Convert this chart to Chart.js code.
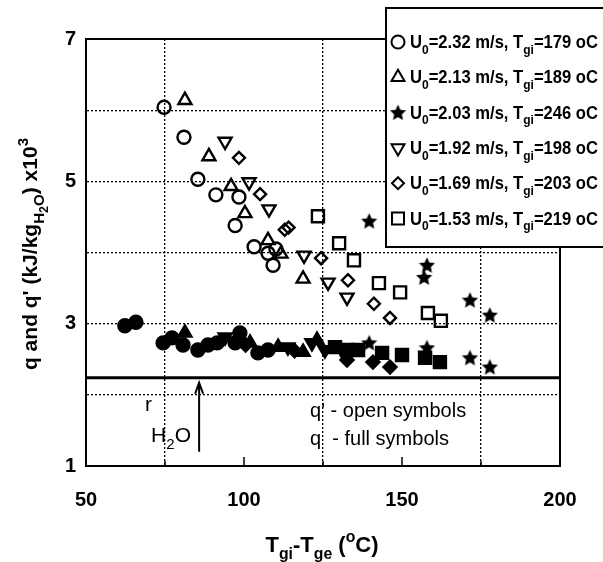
<!DOCTYPE html>
<html>
<head>
<meta charset="utf-8">
<script src="https://cdn.jsdelivr.net/npm/chart.js@4/dist/chart.umd.min.js"></script>
<style>
  html, body { margin: 0; padding: 0; background: #fff; }
</style>
</head>
<body>
<canvas id="chart" width="603" height="562"></canvas>
<script>
// q' (open symbols)
const circOpenX = [74.7, 81.0, 85.4, 91.1, 98.4, 97.2, 103.2, 107.6, 110.1, 109.2];
const circOpenY = [6.04, 5.62, 5.03, 4.81, 4.78, 4.38, 4.08, 3.99, 4.05, 3.82];
const triOpenX = [81.3, 88.9, 95.9, 100.3, 107.6, 111.7, 118.7];
const triOpenY = [6.14, 5.35, 4.93, 4.55, 4.17, 3.98, 3.63];
const invOpenX = [94.0, 101.6, 107.9, 119.0, 126.6, 132.6];
const invOpenY = [5.56, 4.99, 4.61, 3.96, 3.58, 3.37];
const diaOpenX = [98.4, 105.1, 112.9, 114.1, 124.4, 132.9, 141.1, 146.2];
const diaOpenY = [5.33, 4.82, 4.32, 4.35, 3.92, 3.61, 3.28, 3.08];
const sqOpenX = [123.4, 130.1, 134.8, 142.7, 149.4, 158.2, 162.3];
const sqOpenY = [4.51, 4.13, 3.89, 3.57, 3.44, 3.15, 3.04];
const starOpenX = [139.6, 157.9, 157.0, 171.5, 177.8];
const starOpenY = [4.44, 3.82, 3.65, 3.33, 3.12];

// q (full symbols)
const circFullX = [62.3, 65.8, 74.4, 77.2, 80.7, 85.4, 88.6, 91.5, 97.2, 98.7, 104.4, 107.6];
const circFullY = [2.97, 3.02, 2.73, 2.80, 2.70, 2.63, 2.70, 2.73, 2.73, 2.87, 2.59, 2.63];
const triFullX = [81.3, 101.9, 110.8, 118.7, 123.1];
const triFullY = [2.87, 2.73, 2.67, 2.60, 2.77];
const invFullX = [94.0, 113.9, 121.5, 125.6, 131.0];
const invFullY = [2.81, 2.67, 2.73, 2.63, 2.63];
const diaFullX = [100.5, 116.0, 132.6, 140.8, 146.2];
const diaFullY = [2.70, 2.62, 2.49, 2.46, 2.39];
const sqFullX = [128.8, 132.6, 136.1, 143.7, 150.0, 157.3, 162.0];
const sqFullY = [2.67, 2.63, 2.63, 2.59, 2.56, 2.52, 2.46];
const starFullX = [139.6, 157.9, 171.5, 177.8];
const starFullY = [2.73, 2.66, 2.52, 2.39];

// r_H2O line and arrow
const rH2O = 2.24;
const arrowX = 85.8;
const arrowY = [1.2, 2.17];

// legend
const legendU = ['2.32', '2.13', '2.03', '1.92', '1.69', '1.53'];
const legendT = ['179', '189', '246', '198', '203', '219'];

const xTicks = [50, 100, 150, 200];
const yTicks = [1, 3, 5, 7];
const xGrid = [75, 125, 175];

const FONT = "'Liberation Sans', Arial, sans-serif";
Chart.defaults.font.family = FONT;
Chart.defaults.color = '#000';

function makeStar(size) {
    const c = document.createElement('canvas');
    c.width = size;
    c.height = size;
    const g = c.getContext('2d');
    g.fillStyle = '#000';
    g.beginPath();
    for (let i = 0; i < 10; i++) {
        const r = i % 2 ? size * 0.24 : size * 0.5;
        const a = -Math.PI / 2 + i * Math.PI / 5;
        const px = size / 2 + r * Math.cos(a);
        const py = size / 2 + 0.5 + r * Math.sin(a);
        if (i === 0) g.moveTo(px, py); else g.lineTo(px, py);
    }
    g.closePath();
    g.fill();
    return c;
}
const starImg = makeStar(17);

const toPts = (xs, ys) => xs.map((x, i) => ({ x: x, y: ys[i] }));

function series(label, xs, ys, style, radius, filled, rotation) {
    return {
        type: 'scatter',
        label: label,
        data: toPts(xs, ys),
        pointStyle: style,
        pointRadius: radius,
        pointRotation: rotation || 0,
        pointBorderWidth: 2.4,
        pointBorderColor: '#000',
        pointBackgroundColor: filled ? '#000' : 'rgba(0,0,0,0)'
    };
}

const datasets = [
    {
        type: 'line',
        label: 'rH2O',
        data: [{ x: 50, y: rH2O }, { x: 200, y: rH2O }],
        borderColor: '#000',
        borderWidth: 3,
        pointRadius: 0
    },
    series('circ open', circOpenX, circOpenY, 'circle', 6.5, false),
    series('tri open', triOpenX, triOpenY, 'triangle', 7.5, false),
    series('inv open', invOpenX, invOpenY, 'triangle', 7.5, false, 180),
    series('dia open', diaOpenX, diaOpenY, 'rectRot', 6, false),
    series('sq open', sqOpenX, sqOpenY, 'rect', 8.5, false),
    series('star open', starOpenX, starOpenY, starImg, 8, true),
    series('circ full', circFullX, circFullY, 'circle', 6.5, true),
    series('tri full', triFullX, triFullY, 'triangle', 7.5, true),
    series('inv full', invFullX, invFullY, 'triangle', 7.5, true, 180),
    series('dia full', diaFullX, diaFullY, 'rectRot', 6.5, true),
    series('sq full', sqFullX, sqFullY, 'rect', 8.5, true),
    series('star full', starFullX, starFullY, starImg, 8, true)
];

function fontFor(level, size, weight) {
    let s = size;
    if (level === -1 || level === 1) s = size * 0.72;
    if (level === -2) s = size * 0.6;
    return weight + ' ' + s.toFixed(1) + 'px ' + FONT;
}
function offFor(level, size) {
    if (level === -1) return size * 0.32;
    if (level === -2) return size * 0.5;
    if (level === 1) return -size * 0.45;
    return 0;
}
function richWidth(ctx, parts, size, weight) {
    let w = 0;
    parts.forEach(p => {
        ctx.font = fontFor(p[1], size, weight);
        w += ctx.measureText(p[0]).width;
    });
    return w;
}
// draws text with sub/superscripts, left aligned at x, baseline y, squeezed to maxW
function drawRich(ctx, parts, x, y, size, weight, maxW) {
    const w = richWidth(ctx, parts, size, weight);
    const sx = maxW ? maxW / w : 1;
    ctx.save();
    ctx.translate(x, y);
    ctx.scale(sx, 1);
    ctx.textBaseline = 'alphabetic';
    ctx.textAlign = 'left';
    ctx.fillStyle = '#000';
    let cx = 0;
    parts.forEach(p => {
        ctx.font = fontFor(p[1], size, weight);
        ctx.fillText(p[0], cx, offFor(p[1], size));
        cx += ctx.measureText(p[0]).width;
    });
    ctx.restore();
    return w * sx;
}

const legendStyles = [
    { pointStyle: 'circle', radius: 6.5, rotation: 0, fill: false },
    { pointStyle: 'triangle', radius: 7.5, rotation: 0, fill: false },
    { pointStyle: starImg, radius: 8, rotation: 0, fill: true },
    { pointStyle: 'triangle', radius: 7.5, rotation: 180, fill: false },
    { pointStyle: 'rectRot', radius: 6, rotation: 0, fill: false },
    { pointStyle: 'rect', radius: 8.5, rotation: 0, fill: false }
];

const overlay = {
    id: 'overlay',
    afterDraw(chart) {
        const ctx = chart.ctx;
        const area = chart.chartArea;
        const xs = chart.scales.x;
        const ys = chart.scales.y;

        ctx.save();
        // frame
        ctx.strokeStyle = '#000';
        ctx.lineWidth = 2;
        ctx.strokeRect(area.left, area.top, area.right - area.left, area.bottom - area.top);

        // inward ticks on bottom axis
        ctx.lineWidth = 1.5;
        for (let v = 75; v <= 175; v += 25) {
            const px = xs.getPixelForValue(v);
            const len = v % 50 === 0 ? 9 : 5;
            ctx.beginPath();
            ctx.moveTo(px, area.bottom);
            ctx.lineTo(px, area.bottom - len);
            ctx.stroke();
        }

        // arrow for r_H2O
        const ax = xs.getPixelForValue(arrowX);
        const ay0 = ys.getPixelForValue(arrowY[0]);
        const ay1 = ys.getPixelForValue(arrowY[1]);
        ctx.lineWidth = 2;
        ctx.beginPath();
        ctx.moveTo(ax, ay0);
        ctx.lineTo(ax, ay1);
        ctx.moveTo(ax - 4, ay1 + 11);
        ctx.lineTo(ax, ay1);
        ctx.lineTo(ax + 4, ay1 + 11);
        ctx.stroke();

        // r_H2O label
        const lx = xs.getPixelForValue(68.7);
        drawRich(ctx, [['r', 0]], lx, ys.getPixelForValue(1.77), 21, 'normal');
        drawRich(ctx, [['H', 0], ['2', -1], ['O', 0]], lx + 6, ys.getPixelForValue(1.34), 21, 'normal');

        // q' / q explanation
        const qx = xs.getPixelForValue(120.9);
        drawRich(ctx, [["q' - open symbols", 0]], qx, ys.getPixelForValue(1.69), 20, 'normal');
        drawRich(ctx, [["q  - full symbols", 0]], qx, ys.getPixelForValue(1.29), 20, 'normal');

        // x title
        const xParts = [['T', 0], ['gi', -1], ['-T', 0], ['ge', -1], [' (', 0], ['o', 1], ['C)', 0]];
        const xw = richWidth(ctx, xParts, 22, 'bold');
        drawRich(ctx, xParts, 322 - xw / 2, 552, 22, 'bold');

        // y title
        const yParts = [["q and q' (kJ/kg", 0], ['H', -1], ['2', -2], ['O', -1], [') x10', 0], ['3', 1]];
        ctx.save();
        ctx.translate(37, 254);
        ctx.rotate(-Math.PI / 2);
        const yw = Math.min(richWidth(ctx, yParts, 21, 'bold'), 283);
        drawRich(ctx, yParts, -yw / 2, 0, 21, 'bold', yw);
        ctx.restore();

        // legend box
        const bx = 386, by = 8, bh = 239;
        ctx.fillStyle = '#fff';
        ctx.fillRect(bx, by, 230, bh);
        ctx.lineWidth = 2;
        ctx.strokeStyle = '#000';
        ctx.strokeRect(bx, by, 230, bh);
        legendU.forEach((u, i) => {
            const cy = 42 + i * 35.3;
            const st = legendStyles[i];
            ctx.fillStyle = st.fill ? '#000' : '#fff';
            ctx.strokeStyle = '#000';
            ctx.lineWidth = 2;
            Chart.helpers.drawPoint(ctx, {
                pointStyle: st.pointStyle,
                radius: st.radius,
                rotation: st.rotation,
                borderWidth: 2
            }, 398, cy);
            const parts = [['U', 0], ['0', -1], ['=' + u + ' m/s, T', 0], ['gi', -1], ['=' + legendT[i] + ' oC', 0]];
            drawRich(ctx, parts, 410, cy + 6, 18, 'bold', 188);
        });
        ctx.restore();
    }
};

new Chart(document.getElementById('chart'), {
    data: { datasets: datasets },
    options: {
        responsive: false,
        animation: false,
        events: [],
        layout: { padding: { left: 0, top: 39, right: 43, bottom: 0 } },
        plugins: {
            legend: { display: false },
            tooltip: { enabled: false }
        },
        scales: {
            x: {
                type: 'linear',
                min: 50,
                max: 200,
                afterFit: s => { s.height = 96; },
                afterBuildTicks: s => { s.ticks = [50, 75, 100, 125, 150, 175, 200].map(v => ({ value: v })); },
                ticks: {
                    autoSkip: false,
                    maxRotation: 0,
                    padding: 22,
                    font: { size: 20, weight: 'bold' },
                    callback: v => xTicks.includes(v) ? String(v) : ''
                },
                grid: {
                    drawTicks: false,
                    lineWidth: 1.3,
                    color: c => c.tick && xGrid.includes(c.tick.value) ? '#000' : 'rgba(0,0,0,0)'
                },
                border: { display: true, color: '#000', width: 2, dash: [2, 2] }
            },
            y: {
                type: 'linear',
                min: 1,
                max: 7,
                afterFit: s => { s.width = 86; },
                afterBuildTicks: s => { s.ticks = [1, 2, 3, 4, 5, 6, 7].map(v => ({ value: v })); },
                ticks: {
                    autoSkip: false,
                    padding: 10,
                    font: { size: 20, weight: 'bold' },
                    callback: v => yTicks.includes(v) ? String(v) : ''
                },
                grid: {
                    drawTicks: false,
                    lineWidth: 1.3,
                    color: c => c.tick && c.tick.value > 1 && c.tick.value < 7 ? '#000' : 'rgba(0,0,0,0)'
                },
                border: { display: true, color: '#000', width: 2, dash: [2, 2] }
            }
        }
    },
    plugins: [overlay]
});
</script>
</body>
</html>
